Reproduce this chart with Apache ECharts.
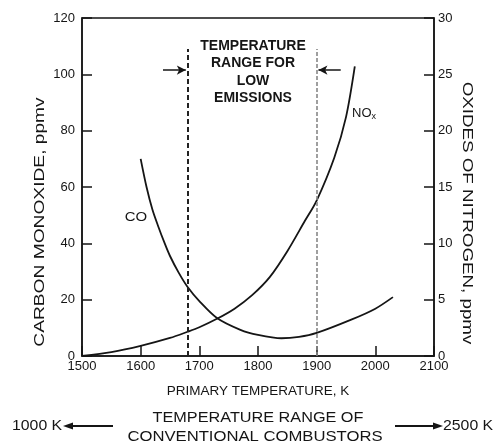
<!DOCTYPE html>
<html>
<head>
<meta charset="utf-8">
<script src="https://cdn.jsdelivr.net/npm/echarts@6/dist/echarts.min.js"></script>
<style>
html,body{margin:0;padding:0;background:#fff;}
#c{width:494px;height:445px;}
</style>
</head>
<body>
<div id="c"></div>
<script>
// Data
const coTemps = [1600, 1610, 1620, 1630, 1640, 1650, 1665, 1680, 1700, 1730, 1770, 1800, 1840, 1870, 1900, 1960, 2000, 2030];
const coPpm   = [70,   60,   52,   46,   40.5, 35.5, 29.5, 24.5, 19.5, 13.5, 9.3,  7.5,  6.3,  6.8,  8.2,  13,   16.8, 20.9];
const noxTemps = [1500, 1550, 1600, 1650, 1680, 1700, 1730, 1760, 1790, 1820, 1850, 1880, 1900, 1930, 1950, 1965];
const noxPpm   = [0,    0.35, 0.9,  1.6,  2.15, 2.55, 3.3,  4.2,  5.4,  7.0,  9.3,  12,   13.8, 17.6, 21.2, 25.7];
const lowEmissionRange = [1680, 1900];
const xTickRange = [1500, 2100, 100];
const coAxisRange = [0, 120, 20];
const noxAxisRange = [0, 30, 5];

const FONT = '"Liberation Sans", Arial, sans-serif';
const INK = '#151515';

const chart = echarts.init(document.getElementById('c'), null, {renderer: 'canvas'});

function pairs(xs, ys) { return xs.map((x, i) => [x, ys[i]]); }

function axisCfg(extra, margin) {
  return Object.assign({
    axisLine: {show: true, onZero: false, lineStyle: {color: INK, width: 1.5}},
    axisTick: {show: true, inside: true, length: 10, lineStyle: {color: INK, width: 1.5}},
    axisLabel: {show: true, color: INK, fontSize: 13, fontFamily: FONT, margin: margin, formatter: v => String(v)},
    splitLine: {show: false}
  }, extra);
}

const option = {
  backgroundColor: '#fff',
  animation: false,
  grid: {left: 82, right: 60, top: 18, bottom: 89, show: true, borderColor: INK, borderWidth: 1.5},
  xAxis: axisCfg({
    type: 'value', min: xTickRange[0], max: xTickRange[1], interval: xTickRange[2],
    name: 'PRIMARY TEMPERATURE, K', nameLocation: 'middle', nameGap: 28,
    nameTextStyle: {color: INK, fontSize: 13.5, fontFamily: FONT}
  }, 4),
  yAxis: [
    axisCfg({type: 'value', position: 'left', min: coAxisRange[0], max: coAxisRange[1], interval: coAxisRange[2]}, 7),
    axisCfg({type: 'value', position: 'right', min: noxAxisRange[0], max: noxAxisRange[1], interval: noxAxisRange[2]}, 4)
  ],
  series: [
    {
      name: 'CO', type: 'line', yAxisIndex: 0, data: pairs(coTemps, coPpm),
      showSymbol: false, smooth: 0.3,
      lineStyle: {color: INK, width: 1.8},
      markLine: {
        silent: true, symbol: ['none', 'none'], label: {show: false},
        data: [
          [{coord: [lowEmissionRange[0], 0], lineStyle: {color: '#222', width: 2, type: [5, 3]}},
           {coord: [lowEmissionRange[0], 109]}],
          [{coord: [lowEmissionRange[1], 0], lineStyle: {color: '#888', width: 1.6, type: [4, 2]}},
           {coord: [lowEmissionRange[1], 109]}],
          [{coord: [1638, 101.5], symbol: 'none', lineStyle: {color: INK, width: 1.5, type: 'solid'}},
           {coord: [1677, 101.5], symbol: 'arrow', symbolSize: [7, 9]}],
          [{coord: [1941, 101.5], symbol: 'none', lineStyle: {color: INK, width: 1.5, type: 'solid'}},
           {coord: [1903, 101.5], symbol: 'arrow', symbolSize: [7, 9]}]
        ]
      }
    },
    {
      name: 'NOx', type: 'line', yAxisIndex: 1, data: pairs(noxTemps, noxPpm),
      showSymbol: false, smooth: 0.3,
      lineStyle: {color: INK, width: 1.8}
    }
  ],
  graphic: [
    {type: 'text', x: 40, y: 222, rotation: Math.PI / 2, scaleX: 1.37,
     style: {text: 'CARBON MONOXIDE, ppmv', font: '14px ' + FONT, fill: INK, textAlign: 'center', textVerticalAlign: 'middle'}},
    {type: 'text', x: 467, y: 213, rotation: -Math.PI / 2, scaleX: 1.34,
     style: {text: 'OXIDES OF NITROGEN, ppmv', font: '14px ' + FONT, fill: INK, textAlign: 'center', textVerticalAlign: 'middle'}},
    {type: 'text', x: 253, y: 72,
     style: {text: 'TEMPERATURE\nRANGE FOR\nLOW\nEMISSIONS', font: 'bold 14px ' + FONT, lineHeight: 17.3, fill: INK, textAlign: 'center', textVerticalAlign: 'middle'}},
    {type: 'text', x: 136, y: 217, scaleX: 1.15,
     style: {text: 'CO', font: '13px ' + FONT, fill: INK, textAlign: 'center', textVerticalAlign: 'middle'}},
    {type: 'text', x: 352, y: 113,
     style: {text: '{a|NO}{b|x}', fill: INK, textVerticalAlign: 'middle',
       rich: {a: {font: '13px ' + FONT, fill: INK}, b: {font: '9px ' + FONT, fill: INK, padding: [8, 0, 0, 0]}}}},
    {type: 'text', x: 258, y: 418, scaleX: 1.16,
     style: {text: 'TEMPERATURE RANGE OF', font: '14px ' + FONT, fill: INK, textAlign: 'center', textVerticalAlign: 'middle'}},
    {type: 'text', x: 255, y: 437, scaleX: 1.19,
     style: {text: 'CONVENTIONAL COMBUSTORS', font: '14px ' + FONT, fill: INK, textAlign: 'center', textVerticalAlign: 'middle'}},
    {type: 'text', x: 12, y: 426, scaleX: 1.13,
     style: {text: '1000 K', font: '14px ' + FONT, fill: INK, textAlign: 'left', textVerticalAlign: 'middle'}},
    {type: 'text', x: 443, y: 426, scaleX: 1.13,
     style: {text: '2500 K', font: '14px ' + FONT, fill: INK, textAlign: 'left', textVerticalAlign: 'middle'}},
    {type: 'line', shape: {x1: 70, y1: 426, x2: 113, y2: 426}, style: {stroke: INK, lineWidth: 1.8}},
    {type: 'polygon', shape: {points: [[63, 426], [73, 422.5], [73, 429.5]]}, style: {fill: INK}},
    {type: 'line', shape: {x1: 395, y1: 426, x2: 435, y2: 426}, style: {stroke: INK, lineWidth: 1.8}},
    {type: 'polygon', shape: {points: [[443, 426], [433, 422.5], [433, 429.5]]}, style: {fill: INK}}
  ]
};
chart.setOption(option);
</script>
</body>
</html>
